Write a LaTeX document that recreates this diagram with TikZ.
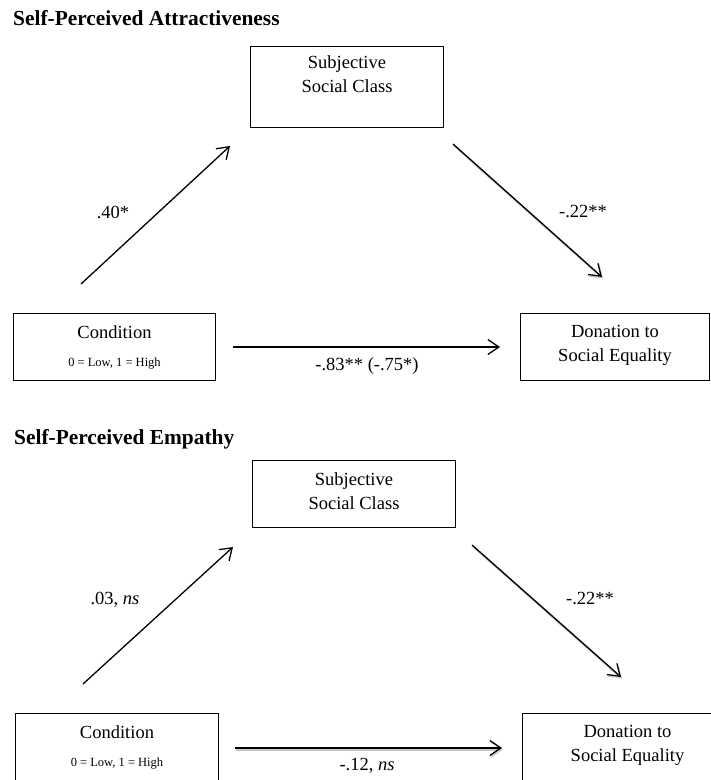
\documentclass[tikz,border=0pt]{standalone}
\usepackage{fontspec}
\setmainfont{Liberation Serif}
\usetikzlibrary{arrows.meta}

\begin{document}
\begin{tikzpicture}[
  x=1pt,y=-1pt,
  every node/.style={font=\fontsize{18.5}{24}\selectfont},
  box/.style={draw,line width=1pt,anchor=north west,inner sep=0pt},
  boxtext/.style={anchor=north,align=center,inner sep=0pt,yshift=-12pt},
  heading/.style={anchor=base west,inner sep=0pt,font=\fontsize{21.4}{24}\selectfont\bfseries},
  coef/.style={inner sep=0pt},
  path/.style={line width=1.3pt,-{Straight Barb[length=11pt,width=15pt,line width=1.3pt]}},
  shade/.style={preaction={draw=black!22,line width=2pt,transform canvas={shift={(1pt,-1.5pt)}}}}
]
  \useasboundingbox (0,0) rectangle (711,780);
  \clip (0,0) rectangle (711,780);

  \node[heading] (title1) at (13,25) {Self-Perceived Attractiveness};
  \node[box,minimum width=193pt,minimum height=81pt,
    label={[boxtext,yshift=3pt]north:Subjective\\Social Class}] (class1) at (250,46) {};
  \node[box,minimum width=202pt,minimum height=67pt,
    label={[boxtext]north:Condition\\[4pt]{\fontsize{12.5}{24}\selectfont 0 = Low, 1 = High}}] (cond1) at (13,313) {};
  \node[box,minimum width=189pt,minimum height=67pt,
    label={[boxtext]north:Donation to\\Social Equality}] (don1) at (520,313) {};

  \coordinate (a1s) at (81,284);
  \coordinate (a1e) at (230,146);
  \coordinate (b1s) at (453,144);
  \coordinate (b1e) at (602,277);
  \coordinate (c1s) at (233,347);
  \coordinate (c1e) at (500,347);
  \draw[path] (a1s) -- (a1e);
  \draw[path,shade] (b1s) -- (b1e);
  \draw[path] (c1s) -- (c1e);
  \node[coef] (ab1) at (113,212) {.40*};
  \node[coef] (bc1) at (583,212) {-.22**};
  \node[coef] (ac1) at (367,366) {-.83** (-.75*)};

  \node[heading] (title2) at (14,444) {Self-Perceived Empathy};
  \node[box,minimum width=203pt,minimum height=67pt,
    label={[boxtext]north:Subjective\\Social Class}] (class2) at (252,460) {};
  \node[box,minimum width=203pt,minimum height=90pt,
    label={[boxtext]north:Condition\\[4pt]{\fontsize{12.5}{24}\selectfont 0 = Low, 1 = High}}] (cond2) at (15,713) {};
  \node[box,minimum width=210pt,minimum height=90pt,
    label={[boxtext]north:Donation to\\Social Equality}] (don2) at (522,713) {};

  \coordinate (a2s) at (83,684);
  \coordinate (a2e) at (233,547);
  \coordinate (b2s) at (472,545);
  \coordinate (b2e) at (621,677);
  \coordinate (c2s) at (235,748);
  \coordinate (c2e) at (502,748);
  \draw[path] (a2s) -- (a2e);
  \draw[path,shade] (b2s) -- (b2e);
  \draw[path,shade] (c2s) -- (c2e);
  \node[coef] (ab2) at (115,600) {.03, \textit{ns}};
  \node[coef] (bc2) at (590,598) {-.22**};
  \node[coef] (ac2) at (367,766) {-.12, \textit{ns}};
\end{tikzpicture}
\end{document}
